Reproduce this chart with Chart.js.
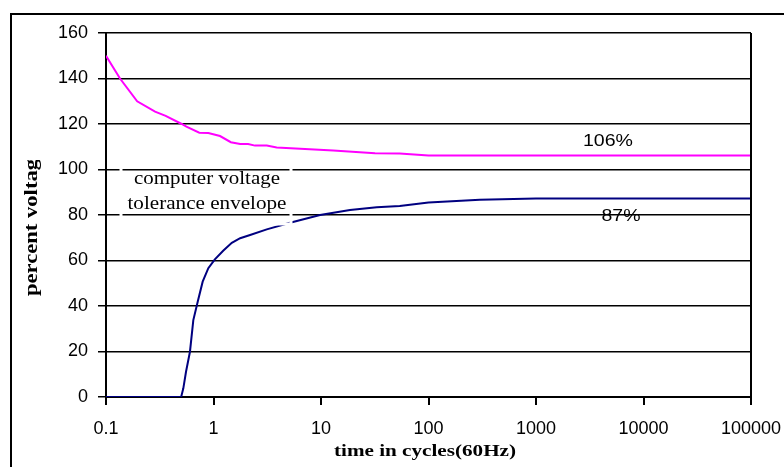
<!DOCTYPE html>
<html>
<head>
<meta charset="utf-8">
<script src="https://cdn.jsdelivr.net/npm/chart.js@4.4.0/dist/chart.umd.min.js"></script>
<style>
  html, body { margin: 0; padding: 0; background: #fff; }
  #wrap { width: 784px; height: 467px; }
</style>
</head>
<body>
<div id="wrap"><canvas id="voltChart" width="784" height="467"></canvas></div>
<script>
// upper limit of the envelope (magenta)
var upperX = [0.1, 0.135, 0.195, 0.286, 0.359, 0.506, 0.56, 0.738, 0.895, 1.15, 1.45, 1.77, 2.1, 2.43, 3.13, 3.87, 13, 31.8, 54, 100, 100000];
var upperY = [150, 140, 130, 125.4, 123.6, 120, 118.8, 116.2, 116, 114.7, 112, 111.2, 111.2, 110.5, 110.5, 109.7, 108.3, 107.1, 107, 106.2, 106.2];

// lower limit of the envelope (navy)
var lowerX = [0.1, 0.5, 0.524, 0.555, 0.604, 0.649, 0.713, 0.793, 0.895, 1.03, 1.23, 1.48, 1.77, 2.19, 3.13, 5.15, 9.8, 18.6, 33, 54, 100, 300, 1000, 100000];
var lowerY = [0, 0, 3.8, 11.1, 19.9, 33.8, 41.9, 50.7, 56.6, 60.5, 64.3, 67.8, 69.8, 71.2, 73.7, 76.6, 80, 82.2, 83.4, 84, 85.5, 86.7, 87.2, 87.2];

var xTicks = [0.1, 1, 10, 100, 1000, 10000, 100000];
var xTickLabels = ['0.1', '1', '10', '100', '1000', '10000', '100000'];

function toPoints(xs, ys) {
  var pts = [];
  for (var i = 0; i < xs.length; i++) {
    pts.push({ x: xs[i], y: ys[i] });
  }
  return pts;
}

// the source image is a bit wide, so stretch text to a given width
function stretchText(ctx, text, cx, cy, width) {
  var w = ctx.measureText(text).width;
  ctx.save();
  ctx.translate(cx, cy);
  ctx.scale(width / w, 1);
  ctx.fillText(text, 0, 0);
  ctx.restore();
}

// extra drawing: frame, text box, labels
var decorPlugin = {
  id: 'decor',
  afterDatasetsDraw: function(chart) {
    var ctx = chart.ctx;
    var area = chart.chartArea;
    ctx.save();

    // right edge of the plot
    ctx.strokeStyle = '#000';
    ctx.lineWidth = 2;
    ctx.beginPath();
    ctx.moveTo(area.right, area.top);
    ctx.lineTo(area.right, area.bottom);
    ctx.stroke();

    // white outline of the text box
    ctx.strokeStyle = '#fff';
    ctx.lineWidth = 3;
    ctx.strokeRect(121, 163, 170, 61);

    ctx.fillStyle = '#000';
    ctx.textAlign = 'center';
    ctx.textBaseline = 'middle';
    ctx.font = '19px "Liberation Serif"';
    stretchText(ctx, 'computer voltage', 207, 179, 146);
    stretchText(ctx, 'tolerance envelope', 207, 204, 159);

    ctx.font = '17px "Liberation Sans"';
    stretchText(ctx, '106%', 608, 141, 50);
    stretchText(ctx, '87%', 621, 216, 39);

    // axis titles
    ctx.font = 'bold 17px "Liberation Serif"';
    stretchText(ctx, 'time in cycles(60Hz)', 425, 452, 182);

    ctx.save();
    ctx.beginPath();
    ctx.rect(0, 160, 60, 160);
    ctx.clip();
    ctx.translate(32, 296);
    ctx.rotate(-Math.PI / 2);
    ctx.textAlign = 'left';
    ctx.font = 'bold 19px "Liberation Serif"';
    var s = 137 / ctx.measureText('percent voltag').width;
    ctx.scale(s, 1);
    ctx.fillText('percent voltage', 0, 0);
    ctx.restore();

    // outer frame
    ctx.strokeStyle = '#000';
    ctx.lineWidth = 2;
    ctx.strokeRect(11, 14, 900, 600);
    ctx.restore();
  }
};

var ctx = document.getElementById('voltChart');
var voltChart = new Chart(ctx, {
  type: 'line',
  data: {
    datasets: [{
      label: 'upper',
      data: toPoints(upperX, upperY),
      borderColor: '#ff00ff',
      borderWidth: 2,
      pointRadius: 0,
      tension: 0
    }, {
      label: 'lower',
      data: toPoints(lowerX, lowerY),
      borderColor: '#000080',
      borderWidth: 2,
      pointRadius: 0,
      tension: 0
    }]
  },
  options: {
    responsive: false,
    animation: false,
    layout: { padding: { left: 0, top: 33, right: 33, bottom: 0 } },
    plugins: {
      legend: { display: false },
      tooltip: { enabled: false }
    },
    scales: {
      x: {
        type: 'logarithmic',
        min: 0.1,
        max: 100000,
        afterBuildTicks: function(scale) {
          scale.ticks = xTicks.map(function(v) { return { value: v }; });
        },
        afterFit: function(scale) {
          scale.height = 70;
          scale.paddingLeft = 0;
          scale.paddingRight = 0;
        },
        ticks: {
          color: '#000',
          font: { family: 'Liberation Sans', size: 18 },
          padding: 13,
          maxRotation: 0,
          autoSkip: false,
          callback: function(value, index) { return xTickLabels[index]; }
        },
        grid: { drawOnChartArea: false, color: '#000', lineWidth: 2, tickLength: 8 },
        border: { color: '#000', width: 2 }
      },
      y: {
        min: 0,
        max: 160,
        afterFit: function(scale) {
          scale.width = 106;
          scale.paddingTop = 0;
          scale.paddingBottom = 0;
        },
        ticks: {
          stepSize: 20,
          color: '#000',
          font: { family: 'Liberation Sans', size: 18 },
          padding: 10
        },
        grid: { color: '#000', lineWidth: 1.5, tickLength: 8 },
        border: { color: '#000', width: 2 }
      }
    }
  },
  plugins: [decorPlugin]
});
</script>
</body>
</html>
